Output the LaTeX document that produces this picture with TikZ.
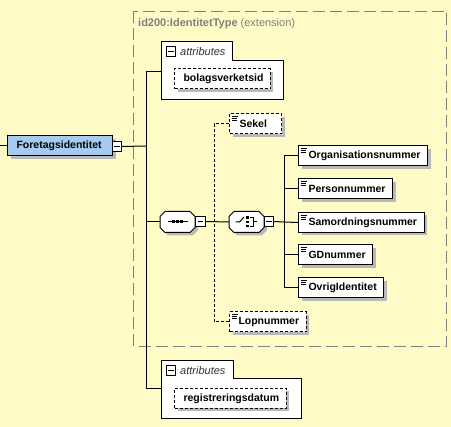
\documentclass[tikz,border=0pt]{standalone}
\usepackage{fontspec}
\setmainfont{Liberation Sans}
\usetikzlibrary{shadows}
\definecolor{bg}{RGB}{255,251,198}
\definecolor{rootblue}{RGB}{166,202,240}
\definecolor{shad}{RGB}{185,185,185}
\definecolor{extgray}{RGB}{128,128,128}
\tikzset{
  every node/.style={font=\fontsize{10.5}{12}\selectfont},
  boxbase/.style={draw=black, fill=white, line width=1pt, minimum height=20pt,
    inner ysep=0pt, inner xsep=7pt, anchor=west,
    general shadow={fill=shad, shadow xshift=3pt, shadow yshift=-3pt},
    font=\bfseries\fontsize{10.5}{12}\selectfont},
  elemicon/.style={path picture={
    \draw[solid, line width=0.8pt] ([shift={(2pt,-2.5pt)}]path picture bounding box.north west) -- ++(6pt,0pt);
    \draw[solid, line width=0.8pt] ([shift={(2pt,-4.5pt)}]path picture bounding box.north west) -- ++(5pt,0pt);
    \draw[solid, line width=0.8pt] ([shift={(2pt,-6.5pt)}]path picture bounding box.north west) -- ++(5pt,0pt);}},
  elem/.style={boxbase, elemicon},
  optelem/.style={boxbase, elemicon, dash pattern=on 3pt off 2pt},
  optattr/.style={boxbase, dash pattern=on 3pt off 2pt},
  minusbox/.style={draw=black, fill=white, line width=1pt, inner sep=0pt, minimum size=9.5pt,
    path picture={\draw[solid, line width=1pt] ([xshift=2pt]path picture bounding box.west) -- ([xshift=-2pt]path picture bounding box.east);}},
  conn/.style={line width=1pt},
  dconn/.style={line width=1pt, dash pattern=on 3pt off 2pt},
  attrframe/.style={draw=black, fill=white, line width=1pt},
  attrtext/.style={anchor=base west, text=black!80, inner sep=0pt, font=\itshape\fontsize{11}{13}\selectfont},
  compshape/.pic={
    \fill[shad] (-9.5,-7.5) -- (15.5,-7.5) -- (20.5,-2.5) -- (20.5,8.5) -- (15.5,13.5) -- (-9.5,13.5) -- (-14.5,8.5) -- (-14.5,-2.5) -- cycle;
    \draw[line width=1pt, fill=white] (-12.5,-10.5) -- (12.5,-10.5) -- (17.5,-5.5) -- (17.5,5.5) -- (12.5,10.5) -- (-12.5,10.5) -- (-17.5,5.5) -- (-17.5,-5.5) -- cycle;
  },
  seqicon/.pic={
    \draw[line width=1pt] (-10,0) -- (10,0);
    \fill (-5.5,-1.5) rectangle (-2.5,1.5);
    \fill (-1.5,-1.5) rectangle (1.5,1.5);
    \fill (2.5,-1.5) rectangle (5.5,1.5);
  },
  choiceicon/.pic={
    \draw[line width=1pt] (-11,0) -- (-7,0) -- (-2.5,-5);
    \fill (-0.5,-5.5) rectangle (2,-3);
    \fill (-0.5,-1.25) rectangle (2,1.25);
    \fill (-0.5,3) rectangle (2,5.5);
    \draw[line width=1pt] (3.5,-4.5) -- (7,-4.5) -- (7,4.5) -- (3.5,4.5);
    \draw[line width=1pt] (7,0) -- (10,0);
  }
}
\begin{document}
\begin{tikzpicture}[x=1pt,y=-1pt]
\useasboundingbox (0,0) rectangle (451,427);
\fill[bg] (0,0) rectangle (451,427);

% extension frame
\draw[extgray, line width=1pt, dash pattern=on 12pt off 5pt] (133.5,11.5) rectangle (446.5,346.5);
\node[anchor=base west, text=extgray, inner sep=0pt, font=\fontsize{11}{13}\selectfont] (exthead) at (138,27) {\textbf{id200:IdentitetType} (extension)};

% root
\coordinate (lstub) at (0,146);
\node[boxbase, fill=rootblue, inner xsep=9pt] (root) at (7,146) {Foretagsidentitet\hspace*{2pt}};
\node[minusbox] (rootm) at (117,146.5) {};
\draw[conn] (lstub) -- (root.west);

% trunk
\coordinate (tA) at (146,72);
\coordinate (tR) at (146,146);
\coordinate (tS) at (146,222);
\coordinate (tB) at (146,389);
\draw[conn] (tA) -- (tB);
\draw[conn] (rootm.east) -- (tR);

% attributes 1
\draw[attrframe] (161,42) -- (232,42) -- (232,61) -- (283,61) -- (283,100) -- (161,100) -- cycle;
\coordinate (a1in) at (161,72);
\draw[conn] (tA) -- (a1in);
\node[minusbox] (a1m) at (171,51.5) {};
\node[attrtext] (a1t) at (180,55.5) {attributes};
\node[optattr] (bol) at (174,79) {\hspace*{2pt}bolagsverketsid};

% sequence
\node[inner sep=0pt, minimum width=35pt, minimum height=21pt] (seq) at (177.5,222) {};
\pic at (177.5,222) {compshape};
\pic at (177.5,222) {seqicon};
\node[minusbox] (seqm) at (200.5,221.5) {};
\draw[conn] (tS) -- (seq.west);

% dashed branch
\node[optelem] (sek) at (229,124) {\hspace*{3pt}Sekel\hspace*{8pt}};
\node[optelem] (lop) at (229,322) {\hspace*{2pt}Lopnummer};
\coordinate (dtop) at (214,124);
\coordinate (dbot) at (214,322);
\draw[dconn] (sek.west) -- (dtop) -- (dbot) -- (lop.west);

% choice
\node[inner sep=0pt, minimum width=35pt, minimum height=21pt] (cho) at (246.5,222) {};
\pic at (246.5,222) {compshape};
\pic at (246.5,222) {choiceicon};
\node[minusbox] (chom) at (269,221.5) {};
\draw[conn] (seqm.east) -- (cho.west);

\coordinate (cT) at (284,156);
\coordinate (cM) at (284,222);
\coordinate (cB) at (284,288);
\draw[conn] (chom.east) -- (cM);
\draw[conn] (cT) -- (cB);

\node[elem] (org) at (298,156) {\hspace*{3pt}Organisationsnummer};
\node[elem] (pers) at (298,189) {\hspace*{3pt}Personnummer};
\node[elem] (sam) at (298,222.5) {\hspace*{3pt}Samordningsnummer};
\node[elem] (gd) at (298,255) {\hspace*{3pt}GDnummer};
\node[elem] (ovr) at (298,288) {\hspace*{3pt}OvrigIdentitet};
\draw[conn] (cT) -- (org.west);
\draw[conn] (284,189) -- (pers.west);
\draw[conn] (cM) -- (sam.west);
\draw[conn] (284,255) -- (gd.west);
\draw[conn] (cB) -- (ovr.west);

% attributes 2
\draw[attrframe] (161,361) -- (233,361) -- (233,379) -- (301,379) -- (301,419) -- (161,419) -- cycle;
\coordinate (a2in) at (161,389);
\draw[conn] (tB) -- (a2in);
\node[minusbox] (a2m) at (171,370.5) {};
\node[attrtext] (a2t) at (180,374.5) {attributes};
\node[optattr] (reg) at (174,398.5) {\hspace*{2pt}registreringsdatum};
\end{tikzpicture}
\end{document}
